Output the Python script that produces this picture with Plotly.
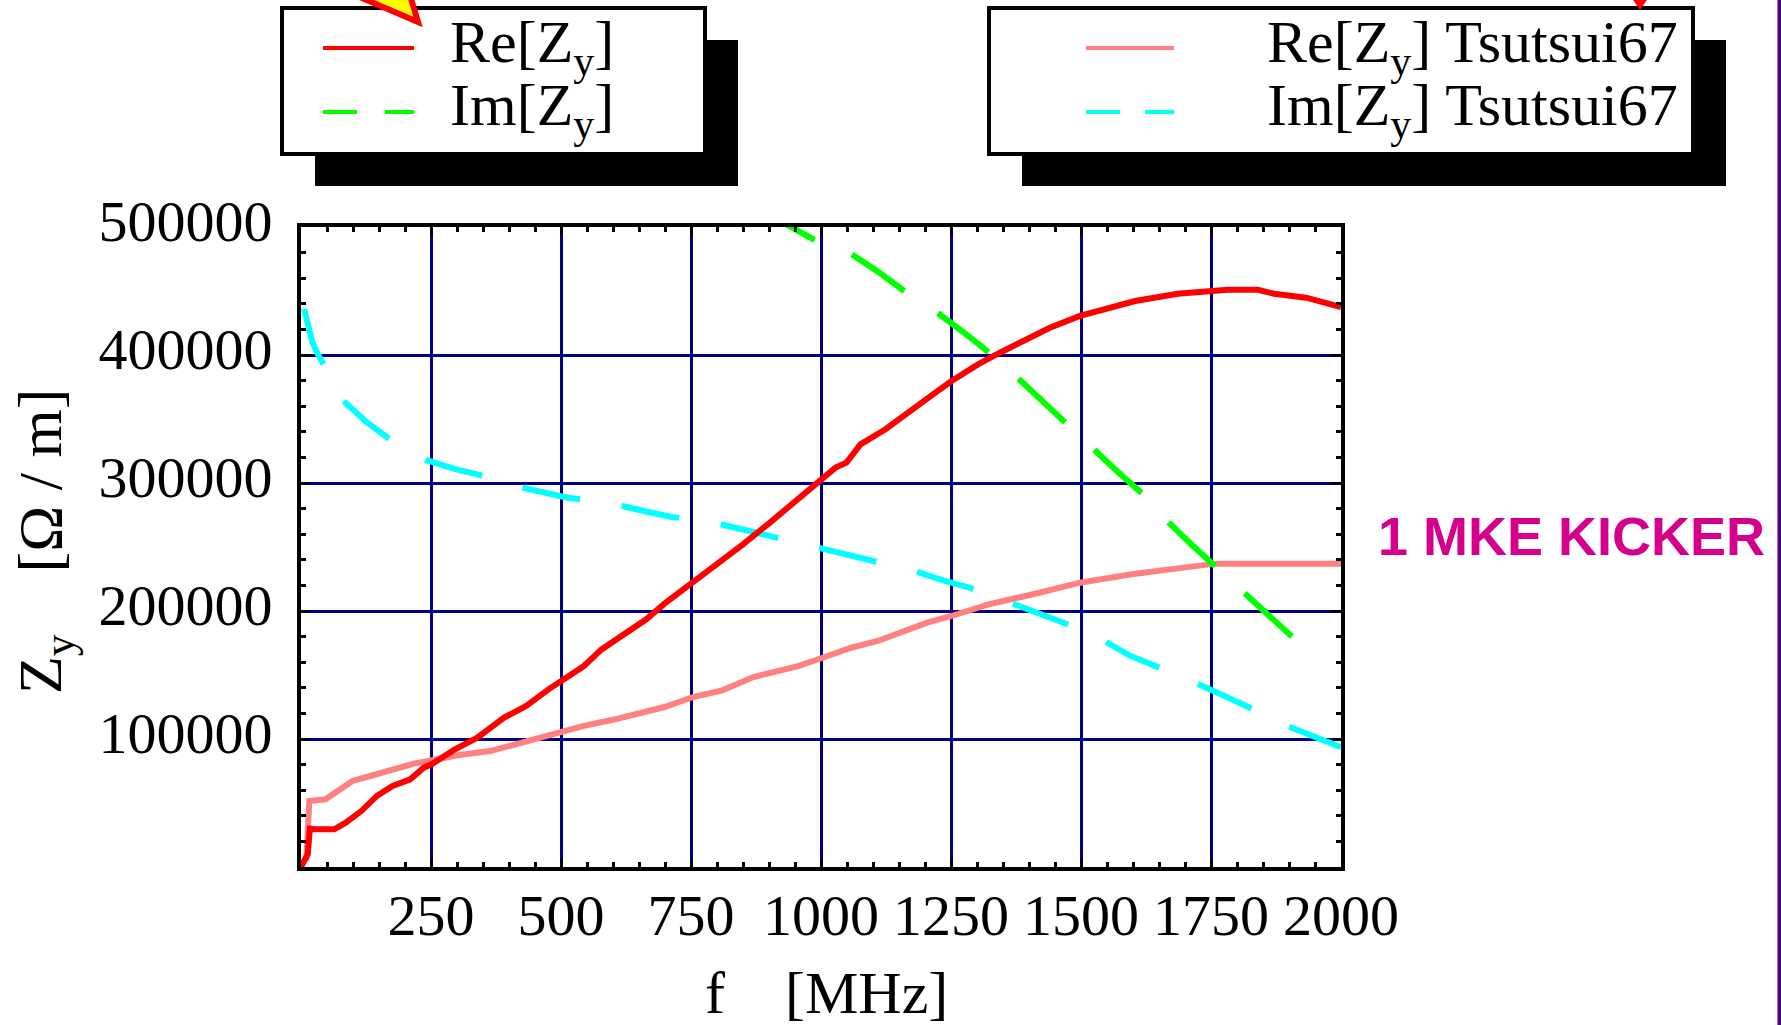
import plotly.graph_objects as go

# ---------------------------------------------------------------------------
# Vertical (y) transverse impedance of one MKE kicker, Z_y in Ohm/m vs f in MHz
# ---------------------------------------------------------------------------

# Re[Z_y]
freq_re = [0, 8, 13, 17, 25, 64, 86, 116, 146, 176, 210, 236, 251, 296, 339, 390,
           433, 476, 500, 544, 578, 621, 664, 699, 750, 800, 850, 900, 960, 1002,
           1028, 1049, 1076, 1124, 1165, 1220, 1251, 1302, 1344, 1384, 1440, 1498,
           1542, 1604, 1686, 1740, 1782, 1840, 1871, 1933, 1988, 2000]
re_zy = [0, 5000, 10000, 30000, 29500, 29500, 34600, 43700, 55500, 63300, 68500,
         77600, 80200, 92000, 101000, 116600, 125800, 138800, 145300, 157000,
         170000, 181800, 193500, 205700, 221000, 236500, 252000, 268500, 288500,
         302900, 312000, 315900, 330200, 342000, 353700, 370600, 379700, 392700,
         401800, 409600, 421300, 430500, 435700, 442200, 447900, 450000, 451000,
         451000, 447900, 444800, 439100, 437500]

# Im[Z_y]
freq_im = [880, 940, 985, 1058, 1110, 1160, 1227, 1280, 1326, 1381, 1425, 1470,
           1525, 1570, 1617, 1669, 1715, 1761, 1816, 1870, 1909, 1950]
im_zy = [514000, 500000, 490500, 479000, 465000, 450000, 432000, 416000, 401000,
         381000, 364000, 347500, 326000, 309000, 292000, 269000, 251000, 234000,
         213000, 193000, 179000, 163500]

# Re[Z_y] Tsutsui67
freq_ts_re = [10, 13, 16, 47, 73, 99, 133, 184, 219, 252, 304, 364, 424, 467, 500,
              544, 604, 656, 699, 754, 810, 870, 913, 956, 1003, 1058, 1109, 1161,
              1204, 1251, 1322, 1412, 1498, 1597, 1713, 1758, 2000]
re_zy_ts = [4700, 30700, 51600, 52900, 59400, 67200, 71100, 77600, 81000, 83400,
            87500, 90600, 97100, 102300, 104900, 110200, 115400, 120500, 125000,
            132800, 138000, 148400, 153100, 157000, 163500, 171300, 176600, 184400,
            190900, 196100, 205200, 213500, 222100, 228700, 234400, 237000, 237000]

# Im[Z_y] Tsutsui67
freq_ts_im = [6, 14, 22, 32, 82, 125, 168, 240, 295, 347, 430, 513, 593, 655, 713,
              790, 850, 905, 986, 1040, 1097, 1178, 1235, 1287, 1374, 1450, 1520,
              1592, 1650, 1703, 1771, 1830, 1882, 1958, 2000]
im_zy_ts = [436000, 423000, 410000, 401000, 364000, 348000, 335000, 318000, 311000,
            306000, 296000, 288500, 284500, 278500, 273500, 269500, 263500, 258500,
            251000, 245000, 240000, 231500, 224000, 218000, 205000, 193000, 182500,
            165500, 156000, 147000, 134500, 123500, 112500, 101000, 93500]

x_tick_vals = [250, 500, 750, 1000, 1250, 1500, 1750, 2000]
x_tick_text = ["250", "500", "750", "1000", "1250", "1500", "1750", "2000"]
y_tick_vals = [100000, 200000, 300000, 400000, 500000]
y_tick_text = ["100000", "200000", "300000", "400000", "500000"]

series_names = ["Re[Z<sub>y</sub>]", "Im[Z<sub>y</sub>]",
                "Re[Z<sub>y</sub>] Tsutsui67", "Im[Z<sub>y</sub>] Tsutsui67"]
series_colors = ["#ff0000", "#00ff00", "#ff8080", "#00ffff"]
series_dash = ["solid", "64px,40px", "solid", "59px,42px"]

label_text = "1 MKE KICKER"

# ---------------------------------------------------------------------------
W, H = 1781, 1025
PL, PR, PT, PB = 301, 1341, 227, 867          # plot-area edges in pixels
SERIF = "Liberation Serif"


def px_x(x):
    return (x - PL) / (PR - PL)


def px_y(y):
    return (PB - y) / (PB - PT)


fig = go.Figure()

curves = [
    (2, freq_ts_re, re_zy_ts),
    (3, freq_ts_im, im_zy_ts),
    (0, freq_re, re_zy),
    (1, freq_im, im_zy),
]
for idx, fx, fy in curves:
    fig.add_trace(go.Scatter(
        x=fx, y=fy, mode="lines", name=series_names[idx], showlegend=False,
        line=dict(color=series_colors[idx], width=6, dash=series_dash[idx]),
    ))

axis_common = dict(
    showline=True, linecolor="black", linewidth=4, mirror="ticks",
    ticks="inside", ticklen=8, tickwidth=3, tickcolor="black",
    showgrid=True, gridcolor="#000080", gridwidth=3, zeroline=False,
    tickfont=dict(family=SERIF, size=58, color="black"),
)
fig.update_xaxes(
    range=[0, 2000], tickvals=x_tick_vals, ticktext=x_tick_text,
    ticklabelstandoff=-6,
    minor=dict(dtick=50, tick0=0, ticks="inside", ticklen=5, tickwidth=3,
               tickcolor="black", showgrid=False),
    **axis_common,
)
fig.update_yaxes(
    range=[0, 500000], tickvals=y_tick_vals, ticktext=y_tick_text,
    ticklabelstandoff=13, ticklabelshift=-6,
    minor=dict(dtick=20000, tick0=0, ticks="inside", ticklen=5, tickwidth=3,
               tickcolor="black", showgrid=False),
    **axis_common,
)

shapes = []
annotations = []


def legend_box(x0, x1, y0, y1, shadow_dx, shadow_dy, rows, sample_x0, sample_x1, text_x):
    # drop shadow, framed box, then one sample line + label per row
    shapes.append(dict(type="rect", xref="paper", yref="paper",
                       x0=px_x(x0 + shadow_dx), x1=px_x(x1 + shadow_dx),
                       y0=px_y(y0 + shadow_dy), y1=px_y(y1 + shadow_dy),
                       fillcolor="black", line=dict(width=0)))
    shapes.append(dict(type="rect", xref="paper", yref="paper",
                       x0=px_x(x0), x1=px_x(x1), y0=px_y(y0), y1=px_y(y1),
                       fillcolor="white", line=dict(color="black", width=4)))
    for k, idx in enumerate(rows):
        yy = 48 + 64 * k
        if series_dash[idx] == "solid":
            segs = [(sample_x0, sample_x1)]
        else:
            segs = [(sample_x0, sample_x0 + 34), (sample_x1 - 29, sample_x1)]
        for a, b in segs:
            shapes.append(dict(type="line", xref="paper", yref="paper",
                               x0=px_x(a), x1=px_x(b), y0=px_y(yy), y1=px_y(yy),
                               line=dict(color=series_colors[idx], width=4)))
        annotations.append(dict(
            xref="paper", yref="paper", x=px_x(text_x), y=px_y(yy - 2),
            xanchor="left", yanchor="middle", showarrow=False,
            text=series_names[idx], borderpad=0,
            font=dict(family=SERIF, size=60, color="black")))


legend_box(282, 705, 8, 154, 33, 32, [0, 1], 323, 414, 449)
legend_box(989, 1693, 8, 154, 33, 32, [2, 3], 1086, 1174, 1266)

# pointer arrows at the top edge
shapes.append(dict(
    type="path", xref="paper", yref="paper",
    path=f"M {px_x(348)},{px_y(-8)} L {px_x(418)},{px_y(22)} L {px_x(409)},{px_y(-8)} Z",
    fillcolor="#ffff00", line=dict(color="#ff0000", width=6)))
shapes.append(dict(
    type="path", xref="paper", yref="paper",
    path=f"M {px_x(1631)},{px_y(-3)} L {px_x(1640)},{px_y(10)} L {px_x(1649)},{px_y(-3)} Z",
    fillcolor="#ff0000", line=dict(width=0)))

# frame bar on the right edge
shapes.append(dict(type="rect", xref="paper", yref="paper",
                   x0=px_x(1777.5), x1=px_x(1782), y0=px_y(-2), y1=px_y(1027),
                   fillcolor="#4b0082", line=dict(width=0)))

# axis titles
annotations.append(dict(
    xref="paper", yref="paper", x=px_x(826), y=px_y(993),
    xanchor="center", yanchor="middle", showarrow=False, borderpad=0,
    text="f\u00a0\u00a0\u00a0\u00a0[MHz]",
    font=dict(family=SERIF, size=60, color="black")))
annotations.append(dict(
    xref="paper", yref="paper", x=px_x(44), y=px_y(542),
    xanchor="center", yanchor="middle", showarrow=False, borderpad=0,
    textangle=-90,
    text="Z<sub>y</sub>\u00a0\u00a0\u00a0\u00a0[\u03a9\u00a0/\u00a0m]",
    font=dict(family=SERIF, size=62, color="black")))

annotations.append(dict(
    xref="paper", yref="paper", x=px_x(1571), y=px_y(536),
    xanchor="center", yanchor="middle", showarrow=False, borderpad=0,
    text=f"<b>{label_text}</b>",
    font=dict(family="Liberation Sans", size=54, color="#d4008c")))

fig.update_layout(
    width=W, height=H, autosize=False,
    margin=dict(l=PL, r=W - PR, t=PT, b=H - PB, pad=0),
    plot_bgcolor="white", paper_bgcolor="white",
    shapes=shapes, annotations=annotations, showlegend=False,
)

fig.write_html("out.html", post_script="document.body.style.margin='0';document.body.style.overflow='hidden';")
